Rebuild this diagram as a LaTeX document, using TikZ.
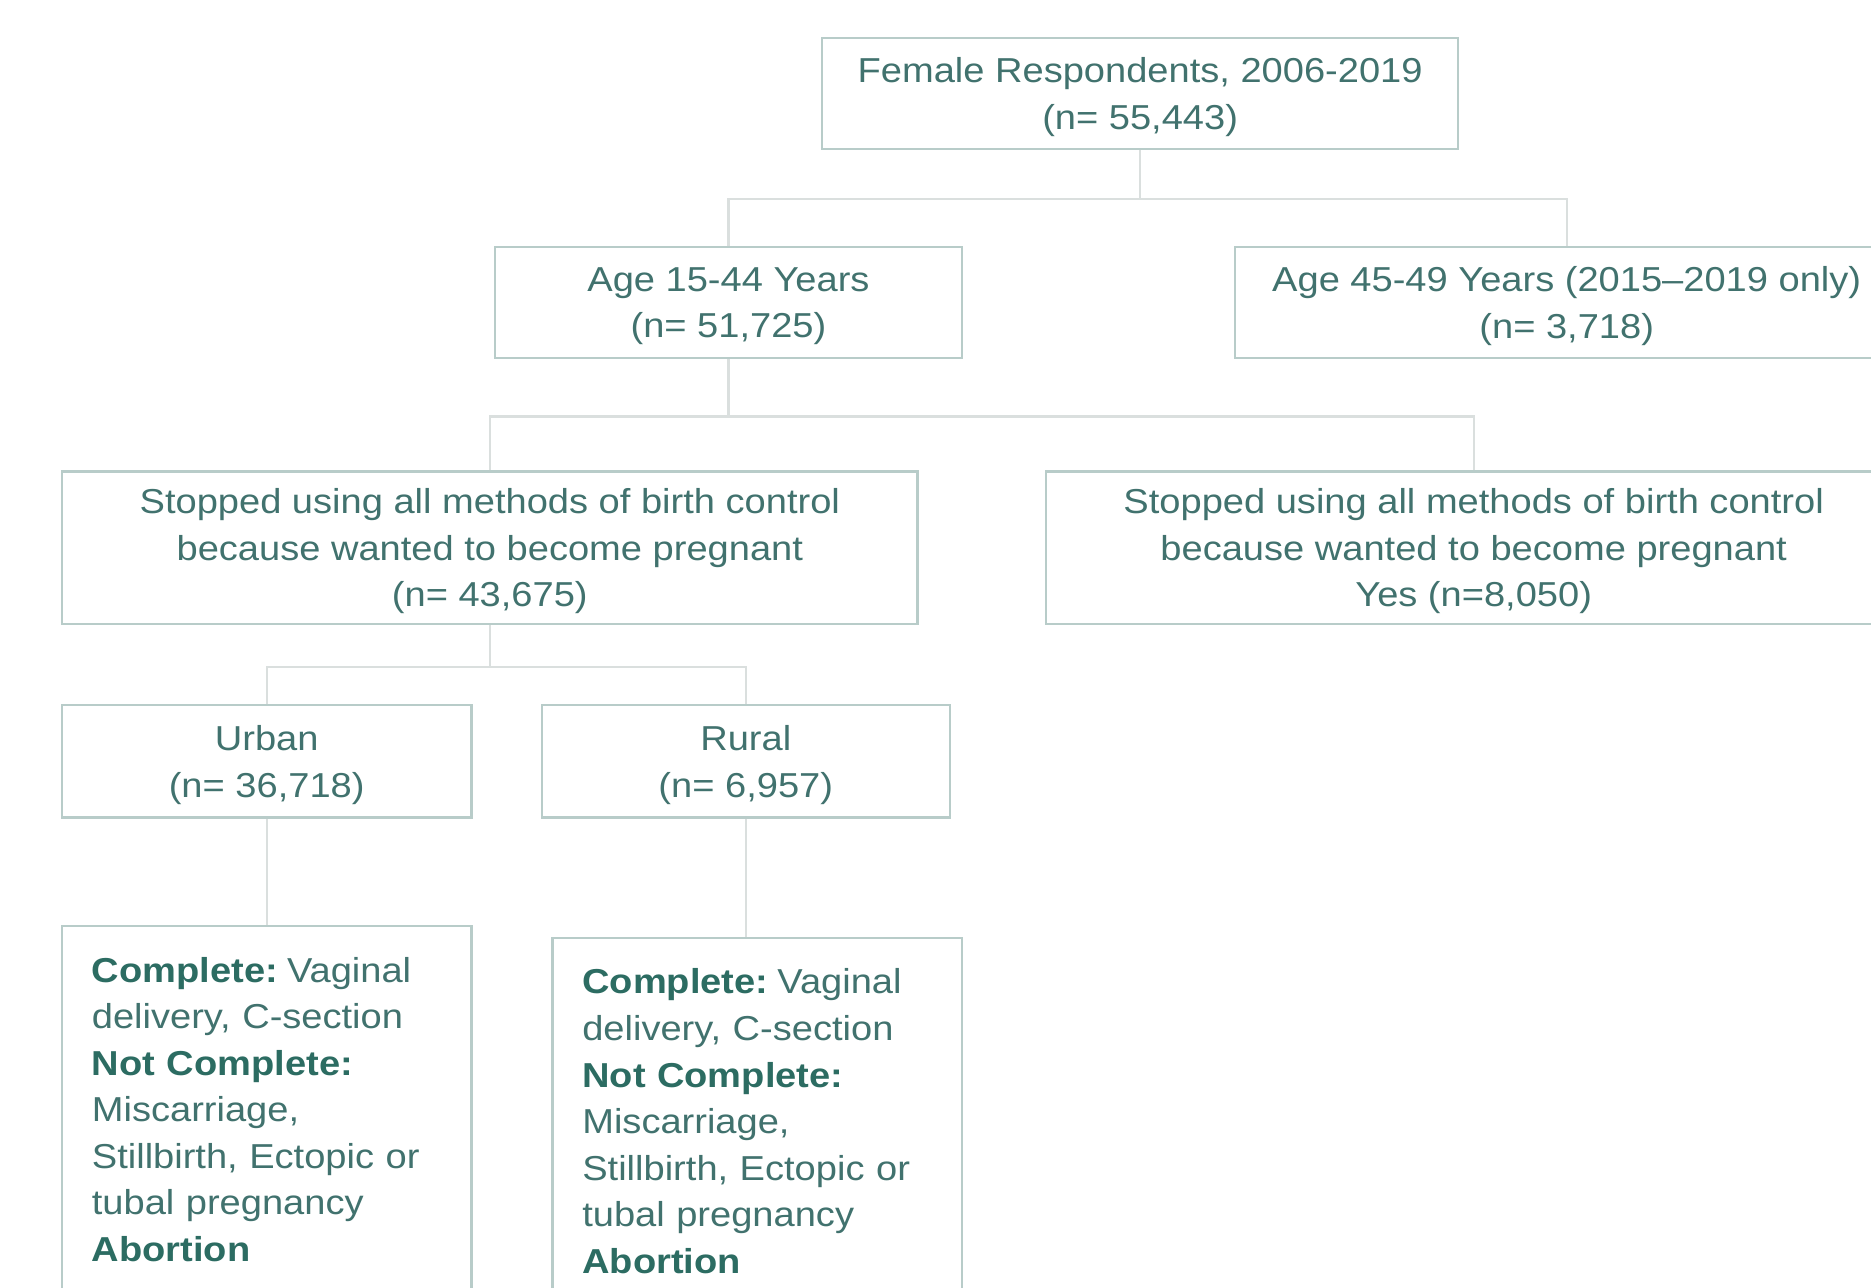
\documentclass[tikz,border=0pt]{standalone}
\usepackage{fontspec}
\setmainfont[FakeStretch=1.1]{Liberation Sans}
\usetikzlibrary{calc}
\definecolor{boxline}{HTML}{B8CCC9}
\definecolor{connline}{HTML}{DADFDE}
\definecolor{txt}{HTML}{41726E}
\definecolor{boldtxt}{HTML}{2C6C62}
\newcommand{\bt}[1]{{\bfseries\color{boldtxt}#1}}
\tikzset{
  box/.style={draw=boxline, line width=1pt, rectangle, inner sep=0pt, text=txt,
    align=center, text depth=-1.5pt, font=\fontsize{14.5}{19.5}\selectfont},
  conn/.style={draw=connline, line width=0.9pt},
  detbox/.style={draw=boxline, line width=1pt, rectangle, anchor=north, text=txt,
    align=left, text width=146.5pt, inner xsep=12.5pt, inner ysep=13pt,
    font=\fontsize{14.5}{19.5}\selectfont}
}
\begin{document}
\begin{tikzpicture}[x=0.5pt,y=-0.5pt]
\useasboundingbox (0,0) rectangle (1568,1079);
\clip (0,0) rectangle (1568,1079);
\fill[white] (0,0) rectangle (1568,1079);

\node[box, minimum width=266.5pt, minimum height=46.5pt] (top) at (955.5,78.5)
  {Female Respondents, 2006-2019\\(n= 55,443)};
\node[box, minimum width=195.5pt, minimum height=46.5pt] (age1) at (610.5,253.5)
  {Age 15-44 Years\\(n= 51,725)};
\node[box, minimum width=278pt, minimum height=46.5pt] (age2) at (1313,253.5)
  {Age 45-49 Years (2015–2019 only)\\(n= 3,718)};
\node[box, minimum width=358.5pt, minimum height=64pt] (stopL) at (410.5,459)
  {Stopped using all methods of birth control\\because wanted to become pregnant\\(n= 43,675)};
\node[box, minimum width=358.5pt, minimum height=64pt] (stopR) at (1235,459)
  {Stopped using all methods of birth control\\because wanted to become pregnant\\Yes (n=8,050)};
\node[box, minimum width=171.5pt, minimum height=47pt] (urban) at (223.5,638)
  {Urban\\(n= 36,718)};
\node[box, minimum width=171pt, minimum height=47pt] (rural) at (625,638)
  {Rural\\(n= 6,957)};
\node[detbox] (udet) at (223.5,775)
  {\bt{Complete:}\hspace{3.8pt}Vaginal\\delivery, C-section\\\bt{Not Complete:}\\Miscarriage,\\Stillbirth, Ectopic or\\tubal pregnancy\\\bt{Abortion}\\\strut};
\node[detbox] (rdet) at (634.5,785)
  {\bt{Complete:}\hspace{3.8pt}Vaginal\\delivery, C-section\\\bt{Not Complete:}\\Miscarriage,\\Stillbirth, Ectopic or\\tubal pregnancy\\\bt{Abortion}\\\strut};

\draw[conn] (top.south) -- ++(0,41) -| (age1.north);
\draw[conn] (top.south) ++(0,41) -| (age2.north);
\draw[conn] (age1.south) -- ++(0,48) -| (stopL.north);
\draw[conn] (age1.south) ++(0,48) -| (stopR.north);
\draw[conn] (stopL.south) -- ++(0,35) -| (urban.north);
\draw[conn] (stopL.south) ++(0,35) -| (rural.north);
\draw[conn] (urban.south) -- (udet.north);
\draw[conn] (rural.south) -- (rural.south |- rdet.north);
\end{tikzpicture}
\end{document}
